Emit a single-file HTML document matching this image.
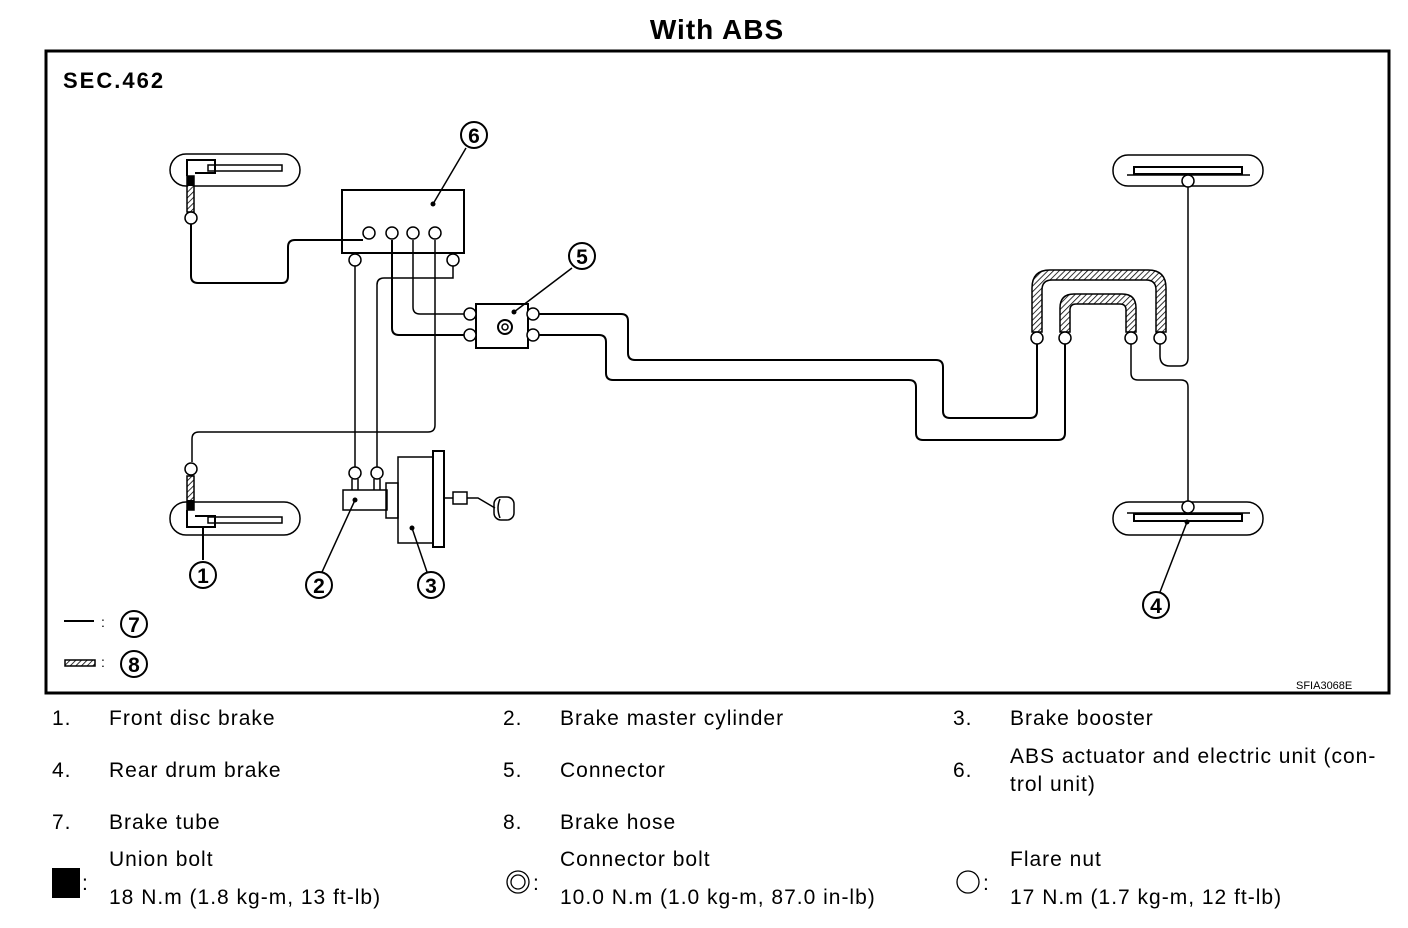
<!DOCTYPE html>
<html><head><meta charset="utf-8"><style>
body{margin:0;background:#fff;width:1408px;height:928px;overflow:hidden;font-family:"Liberation Sans",sans-serif;}
svg{position:absolute;left:0;top:0}
</style></head><body>
<svg width="1408" height="928" viewBox="0 0 1408 928" xmlns="http://www.w3.org/2000/svg" font-family="Liberation Sans, sans-serif">
<defs>
<pattern id="h" width="4" height="4" patternUnits="userSpaceOnUse" patternTransform="rotate(45)">
<rect width="4" height="4" fill="#fff"/><line x1="0" y1="0" x2="0" y2="4" stroke="#000" stroke-width="1.6"/>
</pattern>
</defs>
<text x="717" y="39" text-anchor="middle" font-size="28" font-weight="bold" letter-spacing="1">With ABS</text>
<rect x="46" y="51" width="1343" height="642" fill="none" stroke="#000" stroke-width="3"/>
<text x="63" y="88" font-size="22" font-weight="bold" letter-spacing="2">SEC.462</text>
<text x="1296" y="689" font-size="11">SFIA3068E</text>

<g fill="none" stroke="#000" stroke-width="1.5">
<rect x="170" y="154" width="130" height="32" rx="16"/>
<rect x="170" y="502" width="130" height="33" rx="16"/>
<rect x="1113" y="155" width="150" height="31" rx="15"/>
<rect x="1113" y="502" width="150" height="33" rx="16"/>
<path d="M187 176 V160 H215 V173 H195" stroke-width="2"/>
<rect x="208" y="165" width="74" height="6"/>
<path d="M187 510 V527 H215 V516 H195" stroke-width="2"/>
<rect x="208" y="517" width="74" height="6"/>
<line x1="203" y1="527" x2="203" y2="560" stroke-width="2"/>
<rect x="1134" y="167" width="108" height="7" stroke-width="2"/>
<line x1="1127" y1="175" x2="1250" y2="175"/>
<rect x="1134" y="514" width="108" height="7" stroke-width="2"/>
<line x1="1127" y1="513" x2="1250" y2="513"/>
<rect x="342" y="190" width="122" height="63" stroke-width="2"/>
<rect x="476" y="304" width="52" height="44" stroke-width="2"/>
<circle cx="505" cy="327" r="7" stroke-width="2"/><circle cx="505" cy="327" r="3"/>
<path d="M191 224 V276 Q191 283 198 283 H282 Q288 283 288 276 V247 Q288 240 295 240 H363" stroke-width="2"/>
<path d="M392 240 V328 Q392 335 399 335 H464" stroke-width="2"/>
<path d="M413 240 V307 Q413 314 420 314 H464"/>
<path d="M435 240 V425 Q435 432 428 432 H199 Q192 432 192 439 V462"/>
<path d="M355 266 V467"/>
<path d="M453 266 V278 H384 Q377 278 377 285 V467"/>
<path d="M539 314 H621 Q628 314 628 321 V353 Q628 360 635 360 H936 Q943 360 943 367 V411 Q943 418 950 418 H1030 Q1037 418 1037 411 V344" stroke-width="2"/>
<path d="M539 335 H599 Q606 335 606 342 V373 Q606 380 613 380 H909 Q916 380 916 387 V433 Q916 440 923 440 H1058 Q1065 440 1065 433 V344" stroke-width="2"/>
<path d="M1160 344 V356 Q1160 366 1170 366 H1180 Q1188 366 1188 358 V187"/>
<path d="M1131 344 V373 Q1131 380 1138 380 H1181 Q1188 380 1188 387 V501"/>
<rect x="343" y="490" width="44" height="20"/>
<line x1="352" y1="479" x2="352" y2="490"/><line x1="358" y1="479" x2="358" y2="490"/>
<line x1="374" y1="479" x2="374" y2="490"/><line x1="380" y1="479" x2="380" y2="490"/>
<rect x="386" y="483" width="12" height="35"/>
<rect x="398" y="457" width="35" height="86"/>
<rect x="433" y="451" width="11" height="96" stroke-width="2"/>
<line x1="445" y1="498" x2="453" y2="498"/>
<rect x="453" y="492" width="14" height="12"/>
<path d="M467 498 H478 L495 508"/>
<rect x="494" y="497" width="20" height="23" rx="7"/>
<path d="M500 499 Q496 508 500 518"/>
<line x1="433" y1="204" x2="466" y2="148"/>
<line x1="514" y1="312" x2="572" y2="268"/>
<line x1="355" y1="500" x2="322" y2="572"/>
<line x1="412" y1="528" x2="427" y2="572"/>
<line x1="1187" y1="522" x2="1160" y2="592"/>
<line x1="64" y1="621" x2="94" y2="621" stroke-width="2"/>
</g>
<g stroke="#000" stroke-width="1.5" fill="url(#h)">
<rect x="187" y="176" width="7" height="36"/>
<rect x="187" y="476" width="7" height="34"/>
<path d="M1032 332 V288 Q1032 270 1050 270 H1148 Q1166 270 1166 288 V332 H1156 V290 Q1156 280 1146 280 H1052 Q1042 280 1042 290 V332 Z"/>
<path d="M1060 332 V308 Q1060 294 1074 294 H1122 Q1136 294 1136 308 V332 H1126 V310 Q1126 304 1120 304 H1076 Q1070 304 1070 310 V332 Z"/>
<rect x="65" y="660" width="30" height="6"/>
</g>
<rect x="187" y="176" width="7" height="10" fill="#000"/>
<rect x="187" y="500" width="7" height="10" fill="#000"/>
<g fill="#fff" stroke="#000" stroke-width="1.5">
<circle cx="191" cy="218" r="6"/><circle cx="191" cy="469" r="6"/>
<circle cx="369" cy="233" r="6"/><circle cx="392" cy="233" r="6"/><circle cx="413" cy="233" r="6"/><circle cx="435" cy="233" r="6"/>
<circle cx="355" cy="260" r="6"/><circle cx="453" cy="260" r="6"/>
<circle cx="470" cy="314" r="6"/><circle cx="470" cy="335" r="6"/>
<circle cx="533" cy="314" r="6"/><circle cx="533" cy="335" r="6"/>
<circle cx="355" cy="473" r="6"/><circle cx="377" cy="473" r="6"/>
<circle cx="1037" cy="338" r="6"/><circle cx="1065" cy="338" r="6"/><circle cx="1131" cy="338" r="6"/><circle cx="1160" cy="338" r="6"/>
<circle cx="1188" cy="181" r="6"/><circle cx="1188" cy="507" r="6"/>
</g>
<g fill="#000"><circle cx="433" cy="204" r="2.5"/><circle cx="514" cy="312" r="2.5"/><circle cx="355" cy="500" r="2.5"/><circle cx="412" cy="528" r="2.5"/><circle cx="1187" cy="522" r="2.5"/></g>
<g fill="none" stroke="#000" stroke-width="2">
<circle cx="474" cy="135" r="13"/><circle cx="582" cy="256" r="13"/><circle cx="203" cy="575" r="13"/>
<circle cx="319" cy="585" r="13"/><circle cx="431" cy="585" r="13"/><circle cx="1156" cy="605" r="13"/>
<circle cx="134" cy="624" r="13"/><circle cx="134" cy="664" r="13"/>
</g>
<g font-size="21" font-weight="bold" text-anchor="middle">
<text x="474" y="143">6</text><text x="582" y="264">5</text><text x="203" y="583">1</text>
<text x="319" y="593">2</text><text x="431" y="593">3</text><text x="1156" y="613">4</text>
<text x="134" y="632">7</text><text x="134" y="672">8</text>
</g>
<text x="101" y="627" font-size="14">:</text><text x="101" y="667" font-size="14">:</text>

<g font-size="21" letter-spacing="1">
<text x="52" y="725">1.</text><text x="109" y="725">Front disc brake</text>
<text x="503" y="725">2.</text><text x="560" y="725">Brake master cylinder</text>
<text x="953" y="725">3.</text><text x="1010" y="725">Brake booster</text>
<text x="52" y="777">4.</text><text x="109" y="777">Rear drum brake</text>
<text x="503" y="777">5.</text><text x="560" y="777">Connector</text>
<text x="953" y="777">6.</text><text x="1010" y="763">ABS actuator and electric unit (con-</text><text x="1010" y="791">trol unit)</text>
<text x="52" y="829">7.</text><text x="109" y="829">Brake tube</text>
<text x="503" y="829">8.</text><text x="560" y="829">Brake hose</text>
<text x="109" y="866">Union bolt</text><text x="109" y="904">18 N.m (1.8 kg-m, 13 ft-lb)</text>
<text x="560" y="866">Connector bolt</text><text x="560" y="904">10.0 N.m (1.0 kg-m, 87.0 in-lb)</text>
<text x="1010" y="866">Flare nut</text><text x="1010" y="904">17 N.m (1.7 kg-m, 12 ft-lb)</text>
<text x="82" y="890">:</text><text x="533" y="890">:</text><text x="983" y="890">:</text>
</g>
<rect x="52" y="868" width="28" height="30" fill="#000"/>
<circle cx="518" cy="882" r="11" fill="none" stroke="#000" stroke-width="1.3"/>
<circle cx="518" cy="882" r="7" fill="none" stroke="#000" stroke-width="1.3"/>
<circle cx="968" cy="882" r="11" fill="none" stroke="#000" stroke-width="1.3"/>
</svg>
</body></html>
